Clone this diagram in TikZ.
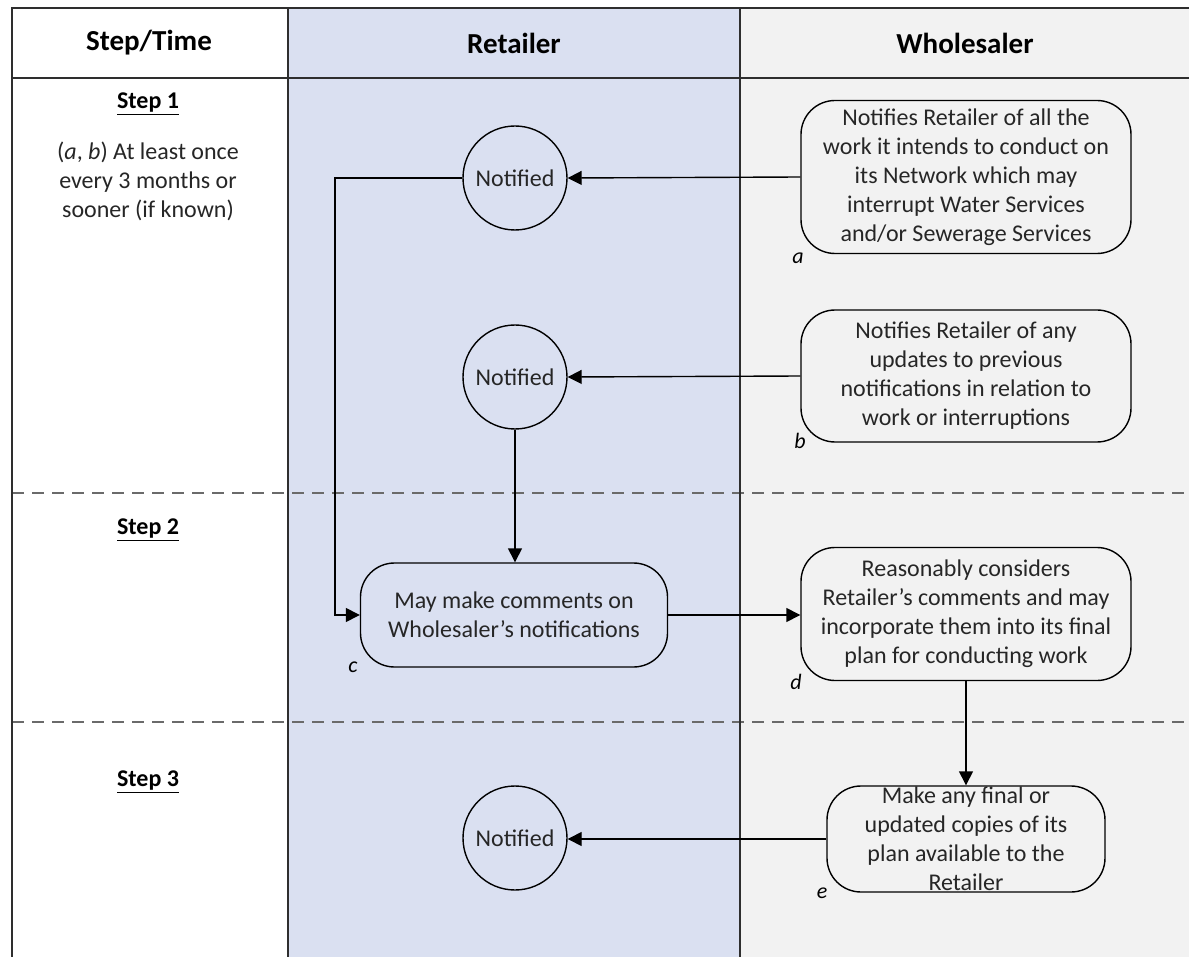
\documentclass[tikz,border=0pt]{standalone}
\usepackage{fontspec}
\setmainfont{Carlito}
\usetikzlibrary{arrows.meta}
\definecolor{retail}{HTML}{DAE0F1}
\definecolor{whole}{HTML}{F2F2F2}
\definecolor{frame}{HTML}{2E2E2E}
\definecolor{dashc}{HTML}{6A6A6A}
\begin{document}
\begin{tikzpicture}[x=1pt,y=-1pt,
  txt/.style={font=\fontsize{24}{29}\selectfont, align=center, text=black!85},
  circ/.style={circle, draw, line width=1.4pt, minimum size=104pt, inner sep=0pt, txt},
  rbox/.style={draw, line width=1.4pt, rounded corners=34pt, align=center, inner sep=0pt, txt},
  conn/.style={line width=1.4pt, -{Triangle[length=14pt,width=14pt]}},
  lab/.style={font=\fontsize{22}{26}\selectfont\itshape},
  head/.style={font=\fontsize{29}{34}\selectfont\bfseries},
  stepl/.style={font=\fontsize{24}{29}\selectfont\bfseries},
  frameline/.style={draw=frame, line width=2pt},
  sep/.style={draw=dashc, line width=2.4pt, dash pattern=on 12pt off 8pt},
]
\useasboundingbox (0,0) rectangle (1189,957);
% lanes
\fill[white] (12,8) rectangle (288,957);
\fill[retail] (288,8) rectangle (740,957);
\fill[whole] (740,8) rectangle (1189,957);
% step separators
\draw[sep] (12,493) -- (1189,493);
\draw[sep] (12,722) -- (1189,722);
% frame
\draw[frameline] (12,957) -- (12,8) -- (1189,8);
\draw[frameline] (12,78) -- (1189,78);
\draw[frameline] (288,8) -- (288,957);
\draw[frameline] (740,8) -- (740,957);
% headers
\node[head] (h1) at (149,43) {Step/Time};
\node[head] (h2) at (514,43) {Retailer};
\node[head] (h3) at (965,43) {Wholesaler};
% step column
\node[stepl] (s1) at (148,104) {\underline{Step 1}};
\node[txt] (s1t) at (148,181) {(\textit{a}, \textit{b}) At least once\\every 3 months or\\sooner (if known)};
\node[stepl] (s2) at (148,530) {\underline{Step 2}};
\node[stepl] (s3) at (148,782) {\underline{Step 3}};
% retailer nodes
\node[circ] (n1) at (515,178) {Notified};
\node[circ] (n2) at (515,377) {Notified};
\node[circ] (n3) at (515,838) {Notified};
\node[rbox, minimum width=307pt, minimum height=104pt] (c) at (514,615) {May make comments on\\Wholesaler’s notifications};
% wholesaler nodes
\node[rbox, minimum width=330pt, minimum height=153pt] (a) at (966,177) {Notifies Retailer of all the\\work it intends to conduct on\\its Network which may\\interrupt Water Services\\and/or Sewerage Services};
\node[rbox, minimum width=330pt, minimum height=132pt] (b) at (966,376) {Notifies Retailer of any\\updates to previous\\notifications in relation to\\work or interruptions};
\node[rbox, minimum width=330pt, minimum height=133pt] (d) at (966,614) {Reasonably considers\\Retailer’s comments and may\\incorporate them into its final\\plan for conducting work};
\node[rbox, minimum width=278pt, minimum height=106pt,
  label={[txt]center:Make any final or\\updated copies of its\\plan available to the\\Retailer}] (e) at (966,839) {};
% letter labels
\node[lab] (la) at (798,258) {a};
\node[lab] (lb) at (800,441) {b};
\node[lab] (lc) at (353,667) {c};
\node[lab] (ld) at (796,682) {d};
\node[lab] (le) at (822,893) {e};
% connectors
\coordinate (k) at (335,178);
\draw[conn] (a.west) -- (n1.east);
\draw[conn] (b.west) -- (n2.east);
\draw[conn] (n1.west) -- (k) |- (c.west);
\draw[conn] (n2.south) -- (n2.south |- c.north);
\draw[conn] (c.east) -- (c.east -| d.west);
\draw[conn] (d.south) -- (e.north);
\draw[conn] (e.west) -- (e.west -| n3.east);
\end{tikzpicture}
\end{document}
